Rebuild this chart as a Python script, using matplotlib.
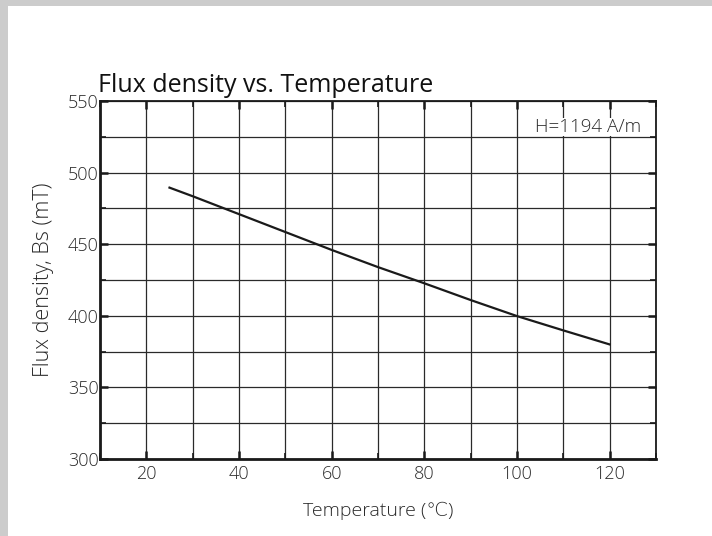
import matplotlib
matplotlib.use("Agg")
import matplotlib.pyplot as plt
from matplotlib.patches import Rectangle

# Saturation flux density vs. temperature
temperature = [25, 30, 40, 50, 60, 70, 80, 90, 100, 110, 120]
flux_density = [489.5, 483.5, 471, 458.5, 446, 434, 422.7, 411, 399.8, 389.8, 380]

x_ticks = [20, 40, 60, 80, 100, 120]
y_ticks = [300, 350, 400, 450, 500, 550]
field_note = "H=1194 A/m"

plt.rcParams['font.family'] = ['Open Sans', 'DejaVu Sans']

fig = plt.figure(figsize=(7.12, 5.36), dpi=100)
fig.patch.set_facecolor('white')

# light gray frame along top and left edges
fig.patches.append(Rectangle((0, 1 - 6 / 536), 1, 6 / 536, transform=fig.transFigure,
                             facecolor='#cccccc', edgecolor='none', zorder=0))
fig.patches.append(Rectangle((0, 0), 8 / 712, 1, transform=fig.transFigure,
                             facecolor='#cccccc', edgecolor='none', zorder=0))

ax = fig.add_axes([100 / 712, (536 - 459) / 536, 556 / 712, 358 / 536])
ax.plot(temperature, flux_density, color='#1a1a1a', lw=1.6, zorder=3)

ax.set_xlim(10, 130)
ax.set_ylim(300, 550)
ax.set_xticks(x_ticks)
ax.set_yticks(y_ticks)
ax.set_xticks(range(10, 131, 10), minor=True)
ax.set_yticks(range(300, 551, 25), minor=True)

ax.grid(True, which='both', color='#2a2a2a', lw=0.9)
ax.set_axisbelow(True)

for side in ['left', 'bottom']:
    ax.spines[side].set_linewidth(2.0)
for side in ['right', 'top']:
    ax.spines[side].set_linewidth(1.3)
for s in ax.spines.values():
    s.set_color('#1a1a1a')

ax.tick_params(which='major', direction='in', length=6, width=1.8, colors='#1a1a1a',
               top=True, right=True, labelsize=13, labelcolor='#2a2a2a', pad=1)
ax.tick_params(which='minor', direction='in', length=4, width=1.2, colors='#1a1a1a',
               top=True, right=True)
ax.tick_params(axis='x', which='major', pad=4)
for lab in ax.get_xticklabels() + ax.get_yticklabels():
    lab.set_fontweight('light')

ax.set_xlabel('Temperature (℃)', fontsize=14, color='#2a2a2a', labelpad=14,
              fontweight='light')
ax.set_ylabel('Flux density, Bs (mT)', fontsize=15.5, color='#2a2a2a', labelpad=10,
              fontweight='light')

ax.text(-0.003, 1.008, 'Flux density vs. Temperature', transform=ax.transAxes,
        fontsize=18, fontweight='medium', color='#111111', ha='left', va='bottom')

ax.text(126.8, 531.5, field_note, fontsize=13.5, color='#2a2a2a', ha='right', va='center',
        fontweight='light',
        bbox=dict(facecolor='white', edgecolor='none', pad=0.0), zorder=2)

fig.savefig('out.png', dpi=100, facecolor='white')
